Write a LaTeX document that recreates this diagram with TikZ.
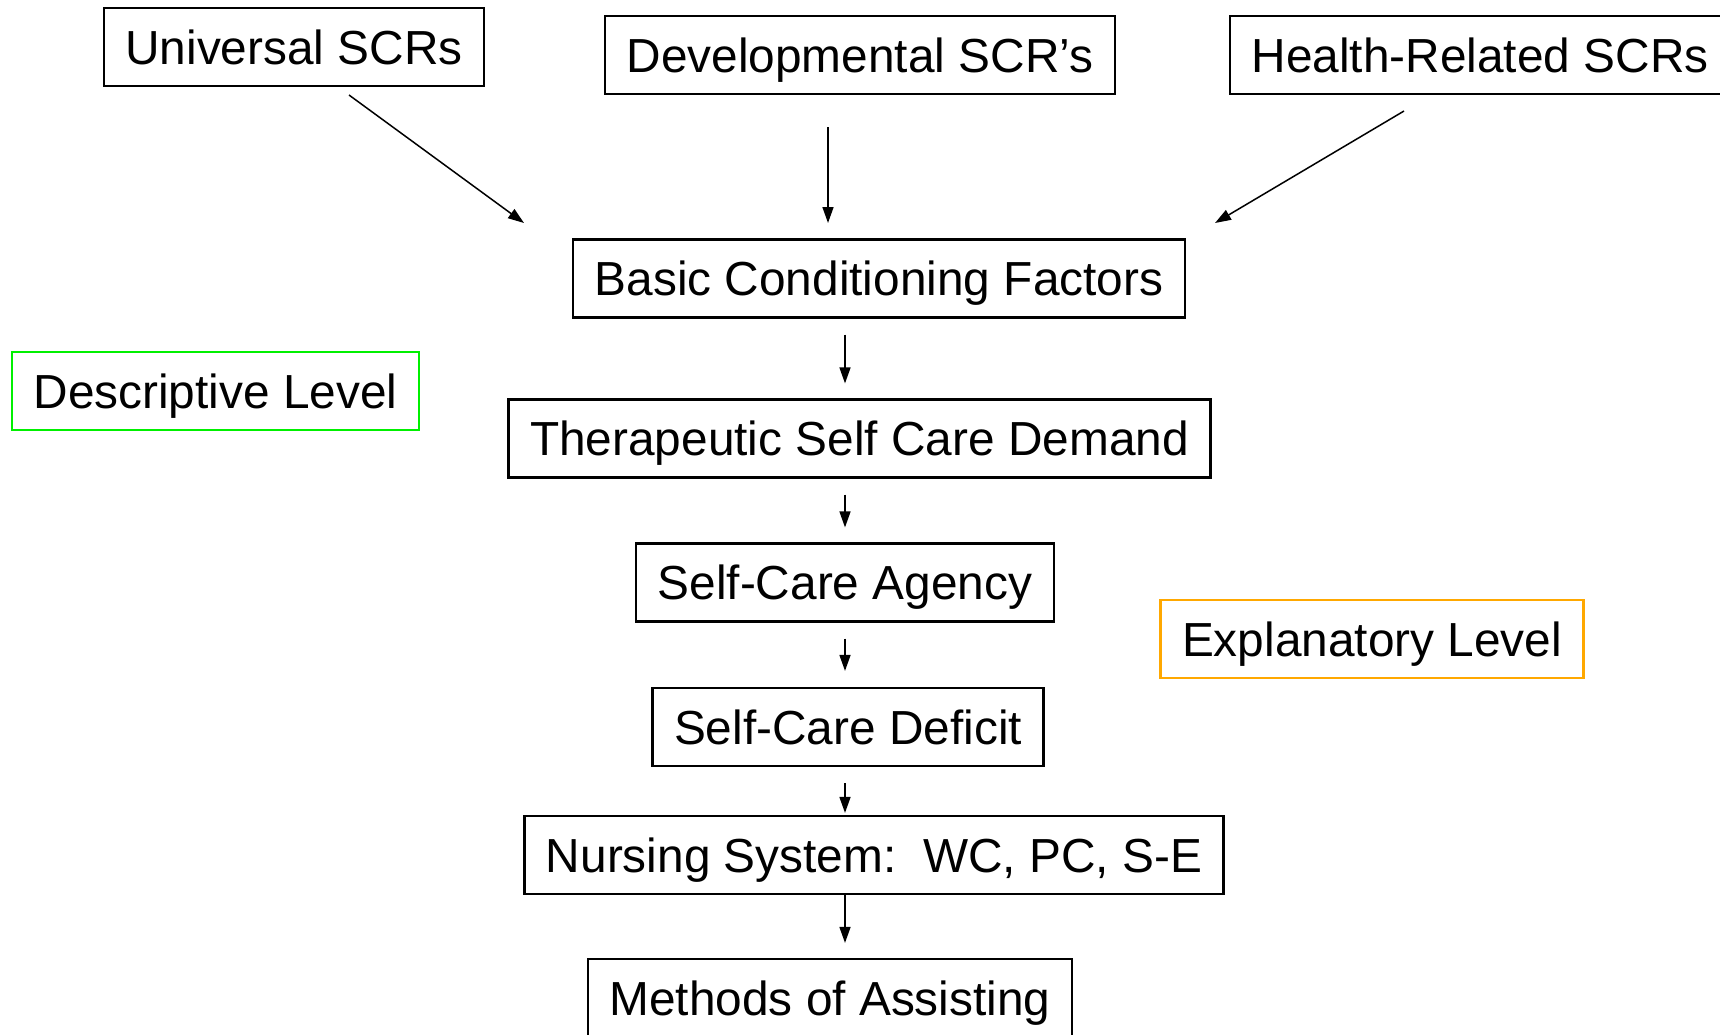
\documentclass[tikz,border=0pt]{standalone}
\usepackage{fontspec}
\setmainfont{Liberation Sans}
\usetikzlibrary{arrows.meta}
\definecolor{desclevel}{RGB}{0,240,0}
\definecolor{explevel}{RGB}{255,168,0}
\tikzset{
  box/.style={draw, line width=2.2pt, minimum height=78pt, inner xsep=21.5pt,
    text height=34.2pt, text depth=0pt, font=\fontsize{47.8}{57}\selectfont},
  arr/.style={-{Triangle[length=16pt,width=11pt]}, line width=1.5pt}
}

\begin{document}
\begin{tikzpicture}[x=1pt,y=-1pt]
\useasboundingbox (0,0) rectangle (1720,1034);
\clip (0,0) rectangle (1720,1034);
% requisites
\node[box] (univ) at (294,47) {Universal SCRs};
\node[box] (dev) at (860,55) {Developmental SCR’s};
\node[box, anchor=west] (health) at (1229,55) {Health-Related SCRs};
% main chain
\node[box] (basic) at (879,278.5) {Basic Conditioning Factors};
\node[box] (ther) at (859.5,438.5) {Therapeutic Self Care Demand};
\node[box] (agency) at (845,582.5) {Self-Care Agency};
\node[box] (deficit) at (848,727) {Self-Care Deficit};
\node[box] (nursing) at (874,855) {Nursing System:~~WC, PC, S-E};
\node[box] (methods) at (830,998) {Methods of Assisting};
% levels
\node[box, draw=desclevel] (desc) at (215.5,391) {Descriptive Level};
\node[box, draw=explevel] (expl) at (1372,639) {Explanatory Level};

\coordinate (univ-out) at (349,95);
\coordinate (univ-in) at (524,223);
\coordinate (dev-out) at (828,127);
\coordinate (dev-in) at (828,223);
\coordinate (health-out) at (1404,111);
\coordinate (health-in) at (1215,223);
\coordinate (axis) at (845,0);

\draw[arr] (univ-out) -- (univ-in);
\draw[arr] (dev-out) -- (dev-in);
\draw[arr] (health-out) -- (health-in);
\foreach \a/\b/\s/\e in {basic/ther/16/15, ther/agency/16/15, agency/deficit/16/16,
    deficit/nursing/16/2, nursing/methods/0/15}{
	\draw[arr, shorten <=\s pt, shorten >=\e pt] (\a.south -| axis) -- (\b.north -| axis);
	}
\end{tikzpicture}
\end{document}
